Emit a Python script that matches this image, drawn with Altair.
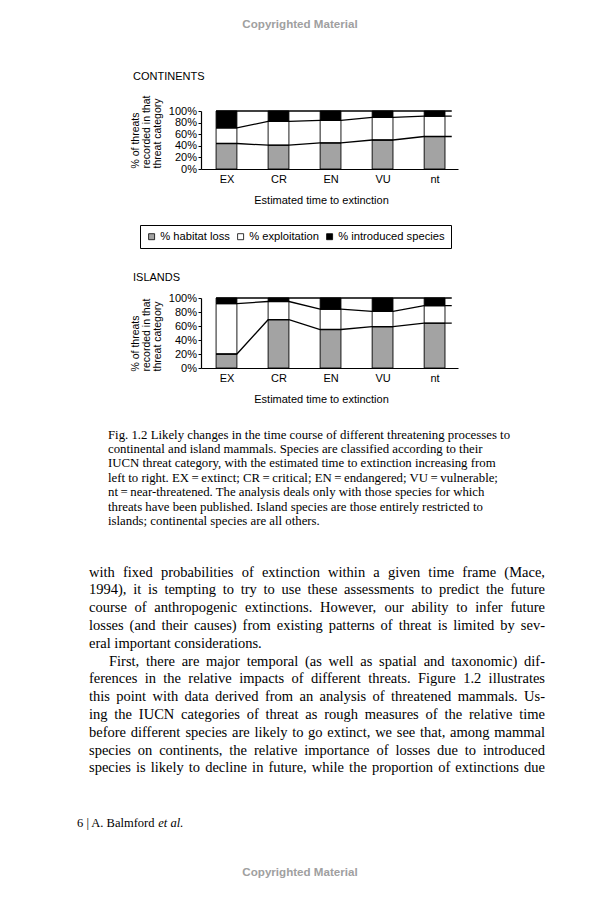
import altair as alt
import pandas as pd

# ---------------- data ----------------
categories = ["EX", "CR", "EN", "VU", "nt"]
series = ["% habitat loss", "% exploitation", "% introduced species"]
series_colors = ["#a3a3a3", "#ffffff", "#000000"]

cont_habitat = [44, 41, 45, 50, 56]
cont_exploitation = [27, 41, 39, 39, 35]
cont_introduced = [29, 18, 16, 11, 9]

isl_habitat = [20, 69, 55, 59, 64]
isl_exploitation = [72, 26, 29, 22, 25]
isl_introduced = [8, 5, 16, 19, 11]

y_ticks = [0, 20, 40, 60, 80, 100]
y_title = ["% of threats", "recorded in that", "threat category"]
x_title = "Estimated time to extinction"
panel_titles = ["CONTINENTS", "ISLANDS"]
watermark = "Copyrighted Material"

caption_lines = [
    "Fig. 1.2 Likely changes in the time course of different threatening processes to",
    "continental and island mammals. Species are classified according to their",
    "IUCN threat category, with the estimated time to extinction increasing from",
    "left to right. EX\u2009=\u2009extinct; CR\u2009=\u2009critical; EN\u2009=\u2009endangered; VU\u2009=\u2009vulnerable;",
    "nt\u2009=\u2009near-threatened. The analysis deals only with those species for which",
    "threats have been published. Island species are those entirely restricted to",
    "islands; continental species are all others.",
]

body_lines = [
    "with fixed probabilities of extinction within a given time frame (Mace,",
    "1994), it is tempting to try to use these assessments to predict the future",
    "course of anthropogenic extinctions. However, our ability to infer future",
    "losses (and their causes) from existing patterns of threat is limited by sev-",
    "eral important considerations.",
    "First, there are major temporal (as well as spatial and taxonomic) dif-",
    "ferences in the relative impacts of different threats. Figure 1.2 illustrates",
    "this point with data derived from an analysis of threatened mammals. Us-",
    "ing the IUCN categories of threat as rough measures of the relative time",
    "before different species are likely to go extinct, we see that, among mammal",
    "species on continents, the relative importance of losses due to introduced",
    "species is likely to decline in future, while the proportion of extinctions due",
]
body_justified = [True, True, True, True, False, True, True, True, True, True, True, True]
body_indent = [False, False, False, False, False, True, False, False, False, False, False, False]

footer_roman = "6 | A. Balmford"
footer_italic = "et al."

SANS = "Liberation Sans"
SERIF = "Liberation Serif"

# Times / Liberation Serif advance widths (1/1000 em) for justification
TIMES = {" ": 250, "!": 333, "(": 333, ")": 333, ",": 250, "-": 333, ".": 250, ":": 278,
         ";": 278, "=": 564, "|": 200, "'": 333, "\u2009": 167}
for d in "0123456789":
    TIMES[d] = 500
TIMES.update(dict(zip("ABCDEFGHIJKLMNOPQRSTUVWXYZ",
                      [722, 667, 667, 722, 611, 556, 722, 722, 333, 389, 722, 611, 889,
                       722, 722, 556, 722, 667, 556, 611, 722, 722, 944, 722, 722, 611])))
TIMES.update(dict(zip("abcdefghijklmnopqrstuvwxyz",
                      [444, 500, 444, 500, 444, 333, 500, 500, 278, 278, 500, 278, 778,
                       500, 500, 500, 500, 333, 389, 278, 500, 500, 722, 500, 500, 444])))


def text_width(s, size):
    return sum(TIMES.get(ch, 500) for ch in s) / 1000.0 * size


OX, OY = 8, 8  # page margin: chart origin on the page

# ---------------- bar panels ----------------
BAR_W = 0.4
X_DOMAIN = [-0.29, 4.65]
LINE_END = 4.53
PLOT_W = 257


def panel(hab, expl, intro, height, title_y):
    bar_rows, line_rows = [], []
    for i, cat in enumerate(categories):
        lo = 0
        for s, v in zip(series, (hab[i], expl[i], intro[i])):
            bar_rows.append({"category": cat, "series": s, "x0": i, "x1": i + BAR_W,
                             "lo": lo, "hi": lo + v})
            lo += v
    cum1 = list(hab)
    cum2 = [a + b for a, b in zip(hab, expl)]
    cum3 = [a + b + c for a, b, c in zip(hab, expl, intro)]
    for name, vals in (("habitat", cum1), ("exploitation", cum2), ("introduced", cum3)):
        for i, v in enumerate(vals):
            line_rows.append({"boundary": name, "x": i, "y": v})
            line_rows.append({"boundary": name, "x": i + BAR_W, "y": v})
        line_rows.append({"boundary": name, "x": LINE_END, "y": vals[-1]})

    xs = alt.Scale(domain=X_DOMAIN, nice=False, zero=False)
    ys = alt.Scale(domain=[0, 100], nice=False, zero=True)
    xaxis = alt.Axis(
        values=[i + BAR_W / 2 for i in range(len(categories))],
        labelExpr="%s[round(datum.value - %s)]" % (repr(categories), BAR_W / 2),
        labelFlush=False, labelOverlap=False, ticks=False, tickSize=0, grid=False,
        domainColor="black", domainWidth=1.2,
        labelFont=SANS, labelFontSize=11, labelColor="black", labelPadding=4,
        title=x_title, titleFont=SANS, titleFontSize=11, titleFontWeight="normal",
        titleColor="black", titleX=120, titleY=31, titleBaseline="middle", titleAlign="center",
    )
    yaxis = alt.Axis(
        values=y_ticks, labelExpr="datum.value + '%'", grid=False,
        domainColor="black", domainWidth=1.2, tickColor="black", tickSize=3,
        labelFont=SANS, labelFontSize=11, labelColor="black", labelPadding=1.5,
        title=y_title, titleAngle=270, titleAlign="left", titleBaseline="alphabetic",
        titleX=-63, titleY=title_y, titleFont=SANS, titleFontSize=10.5,
        titleFontWeight="normal", titleLineHeight=11, titleColor="black",
    )
    legend = alt.Legend(
        title=None, orient="none", legendX=140 - OX, legendY=225 - OY,
        direction="horizontal", columns=3, strokeColor="black", fillColor="white",
        padding=6, symbolType="square", symbolSize=36, symbolStrokeColor="black",
        symbolStrokeWidth=0.8, labelFont=SANS, labelFontSize=11.2, labelColor="black",
        labelOffset=3, columnPadding=5,
    )
    bars = alt.Chart(pd.DataFrame(bar_rows)).mark_rect(stroke="black", strokeWidth=0.9).encode(
        x=alt.X("x0:Q", scale=xs, axis=xaxis),
        x2="x1",
        y=alt.Y("lo:Q", scale=ys, axis=yaxis),
        y2="hi",
        color=alt.Color("series:N", scale=alt.Scale(domain=series, range=series_colors),
                        legend=legend, sort=series),
    )
    lines = alt.Chart(pd.DataFrame(line_rows)).mark_line(color="black", strokeWidth=1.3).encode(
        x=alt.X("x:Q", scale=xs, axis=xaxis),
        y=alt.Y("y:Q", scale=ys, axis=yaxis),
        detail="boundary:N",
        order="x:Q",
    )
    return alt.layer(bars, lines).properties(width=PLOT_W, height=height)


def spacer(w, h):
    return alt.Chart(pd.DataFrame({"v": [0]})).mark_text(text="").encode(
        x=alt.value(0), y=alt.value(0)).properties(width=w, height=h)


# ---------------- page text ----------------
def txt_layer(rows, font, size, align="left", baseline="alphabetic", color="black",
              weight="normal", style="normal"):
    df = pd.DataFrame(rows)
    df["x"] = df["x"] - OX
    df["y"] = df["y"] - OY
    return alt.Chart(df).mark_text(
        font=font, fontSize=size, align=align, baseline=baseline, color=color,
        fontWeight=weight, fontStyle=style,
    ).encode(
        x=alt.X("x:Q", scale=None, axis=None),
        y=alt.Y("y:Q", scale=None, axis=None),
        text="t:N",
    )


wm_rows = [{"t": watermark, "x": 300, "y": 24.5}, {"t": watermark, "x": 300, "y": 873}]
title_rows = [{"t": panel_titles[0], "x": 133, "y": 76.5},
              {"t": panel_titles[1], "x": 133, "y": 278}]

CAP_SIZE = 12.8
caption_rows = [{"t": s, "x": 108, "y": 438.5 + 14.4 * k} for k, s in enumerate(caption_lines)]

BODY_SIZE = 14.5
BODY_L, BODY_R = 89, 545
body_left_rows, body_right_rows = [], []
for k, line in enumerate(body_lines):
    y = 576.5 + 17.8 * k
    x0 = BODY_L + (20 if body_indent[k] else 0)
    words = line.split(" ")
    if not body_justified[k]:
        body_left_rows.append({"t": line, "x": x0, "y": y})
        continue
    natural = sum(text_width(w, BODY_SIZE) for w in words)
    gap = (BODY_R - x0 - natural) / (len(words) - 1)
    x = x0
    for j, w in enumerate(words):
        if j == len(words) - 1:
            body_right_rows.append({"t": w, "x": BODY_R, "y": y})
        else:
            body_left_rows.append({"t": w, "x": x, "y": y})
        x += text_width(w, BODY_SIZE) + gap

FOOT_SIZE = 12.5
foot_roman_rows = [{"t": footer_roman, "x": 77, "y": 827}]
foot_italic_rows = [{"t": footer_italic,
                     "x": 77 + text_width(footer_roman + " ", FOOT_SIZE), "y": 827}]

page_text = alt.layer(
    txt_layer(wm_rows, SANS, 11.6, align="center", baseline="middle", color="#a0a0a0",
              weight="bold"),
    txt_layer(title_rows, SANS, 11, baseline="middle"),
    txt_layer(caption_rows, SERIF, CAP_SIZE),
    txt_layer(body_left_rows, SERIF, BODY_SIZE),
    txt_layer(body_right_rows, SERIF, BODY_SIZE, align="right"),
    txt_layer(foot_roman_rows, SERIF, FOOT_SIZE),
    txt_layer(foot_italic_rows, SERIF, FOOT_SIZE, style="italic"),
).properties(width=584, height=111 - OY)

CONT_TOP, CONT_H = 111, 58
ISL_TOP, ISL_H = 298, 70

cont = panel(cont_habitat, cont_exploitation, cont_introduced, CONT_H, 57)
isl = panel(isl_habitat, isl_exploitation, isl_introduced, ISL_H, 73)

row_cont = alt.hconcat(spacer(201 - OX, CONT_H), cont, spacing=0, bounds="flush").resolve_scale(
    x="independent", y="independent")
row_isl = alt.hconcat(spacer(201 - OX, ISL_H), isl, spacing=0, bounds="flush").resolve_scale(
    x="independent", y="independent")

# (a nested concat row takes no height in a flush layout, so the gap spans it)
chart = alt.vconcat(
    page_text,
    row_cont,
    spacer(584, ISL_TOP - CONT_TOP),
    row_isl,
    spacing=0, bounds="flush",
).resolve_scale(x="independent", y="independent", color="shared").configure(
    padding=0, background="white",
).configure_view(stroke=None)

chart.save("out.html", embed_options={"renderer": "svg", "actions": False})
